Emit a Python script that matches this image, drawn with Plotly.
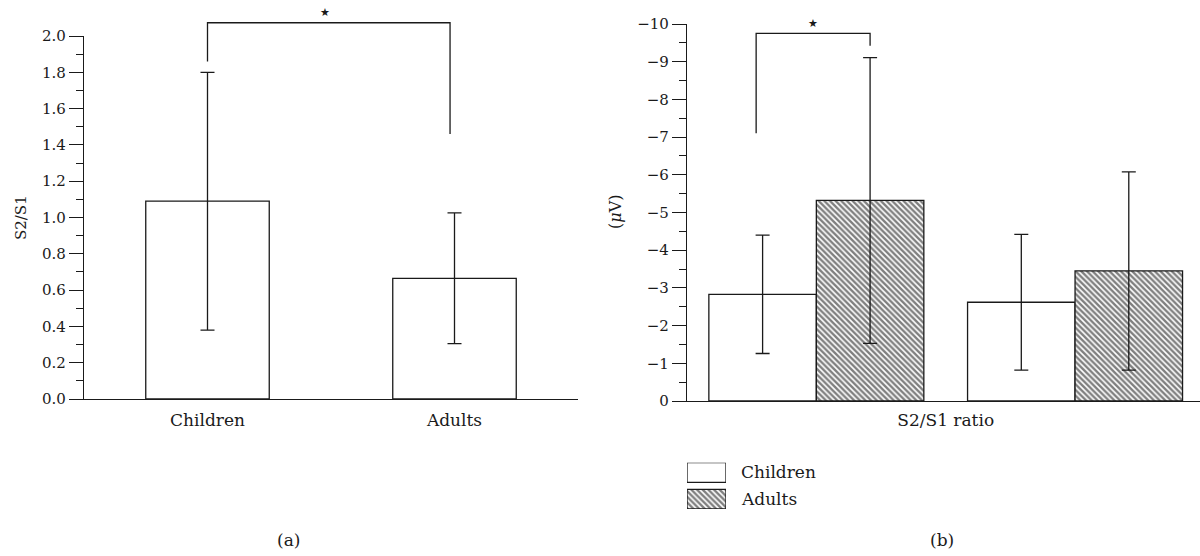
import plotly.graph_objects as go

# ---------------- data ----------------
# Panel (a)
groups_a = ["Children", "Adults"]
ratio_a = [1.09, 0.665]
ratio_err_a = [0.71, 0.36]
sig_a_top = 2.073
sig_a_left_end = 1.86
sig_a_right_end = 1.46

# Panel (b)
children_b = [-2.83, -2.62]
children_err_b = [1.57, 1.80]
adults_b = [-5.32, -3.45]
adults_err_b = [3.79, 2.63]
sig_b_top = -9.75
sig_b_left_end = -7.10
sig_b_right_end = -9.42

xlabel_b = ["S2/S1 ratio"]
legend_names = ["Children", "Adults"]

# ---------------- layout helpers ----------------
W, H = 1200, 556
FONT = "DejaVu Serif"
INK = "#1a1a1a"


def fx(px):
    return px / W


def fy(py):
    return 1 - py / H


pos_a = list(range(len(groups_a)))
pos_b = list(range(len(children_b)))

fig = go.Figure()

line = dict(color=INK, width=1.3)
err = dict(type="data", color=INK, thickness=1.3, width=7)
hatch = dict(shape="\\", size=4, solidity=0.6, fgcolor="#000000", bgcolor="white")

# ---- panel (a) bars ----
fig.add_trace(go.Bar(
    x=pos_a, y=ratio_a, width=0.5,
    error_y=dict(array=ratio_err_a, **err),
    marker=dict(color="white", line=line),
    xaxis="x", yaxis="y", showlegend=False, hoverinfo="skip"))

# ---- panel (b) bars ----
bw = 0.4155
fig.add_trace(go.Bar(
    x=pos_b, y=children_b, width=bw, offset=-bw,
    error_y=dict(array=children_err_b, **err),
    marker=dict(color="white", line=line),
    xaxis="x2", yaxis="y2", showlegend=False, hoverinfo="skip"))
fig.add_trace(go.Bar(
    x=pos_b, y=adults_b, width=bw, offset=0,
    error_y=dict(array=adults_err_b, **err),
    marker=dict(color="white", line=line, pattern=hatch),
    xaxis="x2", yaxis="y2", showlegend=False, hoverinfo="skip"))

# ---- significance bracket (a), on a taller twin axis ----
xa_l = pos_a[0]
xa_r = pos_a[1] - 0.018
fig.add_trace(go.Scatter(
    x=[xa_l, xa_l, xa_r, xa_r],
    y=[sig_a_left_end, sig_a_top, sig_a_top, sig_a_right_end],
    mode="lines", line=dict(color=INK, width=1.3),
    xaxis="x3", yaxis="y3", showlegend=False, hoverinfo="skip"))

# ---- significance bracket (b) ----
xb_l = pos_b[0] - bw / 2 - 0.025
xb_r = pos_b[0] + bw / 2
fig.add_trace(go.Scatter(
    x=[xb_l, xb_l, xb_r, xb_r],
    y=[sig_b_left_end, sig_b_top, sig_b_top, sig_b_right_end],
    mode="lines", line=dict(color=INK, width=1.3),
    xaxis="x2", yaxis="y2", showlegend=False, hoverinfo="skip"))

# ---- legend swatches (own tiny axes) ----
fig.add_trace(go.Bar(
    y=[1], x=[1], base=0, orientation="h", width=0.734,
    marker=dict(color="white", line=line),
    xaxis="x4", yaxis="y4", showlegend=False, hoverinfo="skip"))
fig.add_trace(go.Bar(
    y=[0], x=[1], base=0, orientation="h", width=0.734,
    marker=dict(color="white", line=line, pattern=hatch),
    xaxis="x4", yaxis="y4", showlegend=False, hoverinfo="skip"))

# ---------------- axes ----------------
tickfont = dict(family=FONT, size=15, color=INK)
common_y = dict(showline=True, linecolor=INK, linewidth=1.3, ticks="outside",
                ticklen=14, tickwidth=1.3, tickcolor=INK, showgrid=False,
                zeroline=False, tickfont=tickfont)

scale_a = (399 - 36) / 2.0

fig.update_layout(
    width=W, height=H,
    margin=dict(l=0, r=0, t=0, b=0, autoexpand=False),
    paper_bgcolor="white", plot_bgcolor="rgba(0,0,0,0)",
    barmode="overlay",
    font=dict(family=FONT, color=INK),
    xaxis=dict(domain=[fx(84), fx(578)], range=[-0.5, 1.5], anchor="y",
               showline=True, linecolor=INK, linewidth=1.3, ticks="",
               tickvals=pos_a, ticktext=groups_a, ticklabelstandoff=5,
               showgrid=False, zeroline=False,
               tickfont=dict(family=FONT, size=17, color=INK)),
    yaxis=dict(domain=[fy(399), fy(36)], range=[0, 2.0], anchor="x", dtick=0.2,
               tickformat=".1f",
               minor=dict(dtick=0.1, ticks="outside", ticklen=7, tickwidth=1.3,
                          tickcolor=INK, showgrid=False),
               **common_y),
    xaxis2=dict(domain=[fx(687), 1.0], range=[-0.5, 1.483], anchor="y2",
                showline=True, linecolor=INK, linewidth=1.3, ticks="",
                tickvals=[0.5], ticktext=xlabel_b, ticklabelstandoff=3,
                showgrid=False, zeroline=False,
                tickfont=dict(family=FONT, size=17, color=INK)),
    yaxis2=dict(domain=[fy(401), fy(24)], range=[0, -10], anchor="x2", dtick=1,
                minor=dict(dtick=0.5, ticks="outside", ticklen=7, tickwidth=1.3,
                           tickcolor=INK, showgrid=False),
                **common_y),
    xaxis3=dict(domain=[fx(84), fx(578)], range=[-0.5, 1.5], anchor="y3",
                visible=False),
    yaxis3=dict(domain=[fy(399), 1.0], range=[0, 399 / scale_a], anchor="x3",
                visible=False),
    xaxis4=dict(domain=[fx(687), fx(726)], range=[0, 1], anchor="y4", visible=False),
    yaxis4=dict(domain=[fy(509), fy(462.7)], range=[-0.367, 1.367], anchor="x4",
                visible=False),
)

# ---------------- annotations ----------------
def pa(text, x, y, size=16, angle=0, xanchor="center", family=FONT):
    return dict(text=text, x=fx(x), y=fy(y), xref="paper", yref="paper",
                xanchor=xanchor, yanchor="middle", textangle=angle,
                showarrow=False, font=dict(family=family, size=size, color=INK))


ann = [
    pa("S2/S1", 21, 218, size=15, angle=-90),
    pa("(<i>μ</i>V)", 615, 212, size=16, angle=-90),
    pa(legend_names[0], 739, 472.3, size=17, xanchor="left"),
    pa(legend_names[1], 739, 499, size=17, xanchor="left"),
    pa("(a)", 288, 540, size=17),
    pa("(b)", 942, 540, size=17),
    dict(text="★", x=(xa_l + xa_r) / 2 - 0.015, y=sig_a_top, xref="x3", yref="y3",
         xanchor="center", yanchor="bottom", yshift=2, showarrow=False,
         font=dict(family="DejaVu Sans", size=11, color=INK)),
    dict(text="★", x=(xb_l + xb_r) / 2, y=sig_b_top, xref="x2", yref="y2",
         xanchor="center", yanchor="bottom", yshift=1, showarrow=False,
         font=dict(family="DejaVu Sans", size=11, color=INK)),
]
fig.update_layout(annotations=ann)

fig.write_html("out.html", config={"displayModeBar": False},
               post_script="document.body.style.margin='0px';")
